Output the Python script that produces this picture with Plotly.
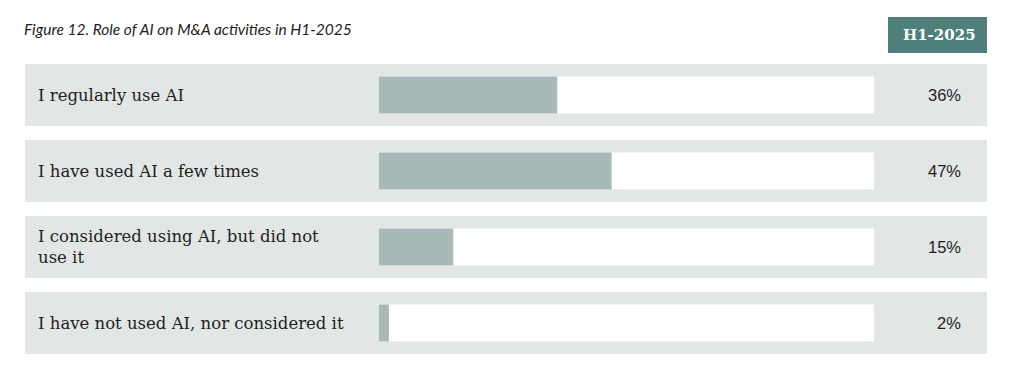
import plotly.graph_objects as go

categories = [
    "I regularly use AI",
    "I have used AI a few times",
    "I considered using AI, but did not<br>use it",
    "I have not used AI, nor considered it",
]
values = [36, 47, 15, 2]
value_labels = ["36%", "47%", "15%", "2%"]
period_label = "H1-2025"
title_text = "Figure 12. Role of AI on M&A activities in H1-2025"

# page body margin offset (browser default 8px)
OFF = 8
W, H = 1026 - OFF, 390 - OFF
ROW0, STEP = 95 - OFF, 76
y_top = -ROW0 / STEP
y_bot = (H - ROW0) / STEP


def px(x):
    return (x - OFF) / W


def py(y):
    return 1 - (y - OFF) / H


band_col = "#e2e6e5"
bar_col = "#a9b9ba"
head_col = "#4e7f7b"
label_font = "DejaVu Serif"

idx = list(range(len(categories)))

fig = go.Figure()
fig.add_trace(go.Bar(
    y=idx, x=[100] * len(idx), orientation="h",
    marker=dict(color="white", line=dict(width=0)),
    width=37 / STEP, hoverinfo="skip", showlegend=False,
))
fig.add_trace(go.Bar(
    y=idx, x=values, orientation="h",
    marker=dict(color=bar_col, line=dict(width=0)),
    width=37 / STEP, showlegend=False,
))

shapes = []
half = 31 / STEP
for i in idx:
    shapes.append(dict(
        type="rect", xref="paper", yref="y", layer="below",
        x0=px(25), x1=px(987), y0=i - half, y1=i + half,
        fillcolor=band_col, line=dict(width=0),
    ))
shapes.append(dict(
    type="rect", xref="paper", yref="paper",
    x0=px(888), x1=px(987), y0=py(53), y1=py(17),
    fillcolor=head_col, line=dict(width=0),
))

annotations = []
for i, (c, v) in enumerate(zip(categories, value_labels)):
    annotations.append(dict(
        x=px(36), xref="paper", y=i, yref="y", text=c,
        xanchor="left", yanchor="middle", align="left", showarrow=False,
        font=dict(family=label_font, size=16.5, color="#1e1e1e"),
    ))
    annotations.append(dict(
        x=px(963), xref="paper", y=i, yref="y", text=v,
        xanchor="right", yanchor="middle", showarrow=False,
        font=dict(family="Liberation Sans, Arial", size=16.5, color="#1e1e1e"),
    ))
annotations.append(dict(
    x=px(978), xref="paper", y=py(35), yref="paper", text="<b>" + period_label + "</b>",
    xanchor="right", yanchor="middle", showarrow=False,
    font=dict(family=label_font, size=15, color="white"),
))
annotations.append(dict(
    x=px(22), xref="paper", y=py(29), yref="paper", text="<i>" + title_text + "</i>",
    xanchor="left", yanchor="middle", showarrow=False,
    font=dict(family="Lato, Noto Sans", size=15.5, color="#1e1e1e"),
))

fig.update_layout(
    width=W, height=H,
    margin=dict(l=0, r=0, t=0, b=0),
    paper_bgcolor="white", plot_bgcolor="rgba(0,0,0,0)",
    barmode="overlay",
    shapes=shapes, annotations=annotations,
    xaxis=dict(domain=[px(379), px(874)], range=[0, 100], visible=False, fixedrange=True),
    yaxis=dict(range=[y_bot, y_top], visible=False, fixedrange=True),
)

fig.write_html("out.html")
